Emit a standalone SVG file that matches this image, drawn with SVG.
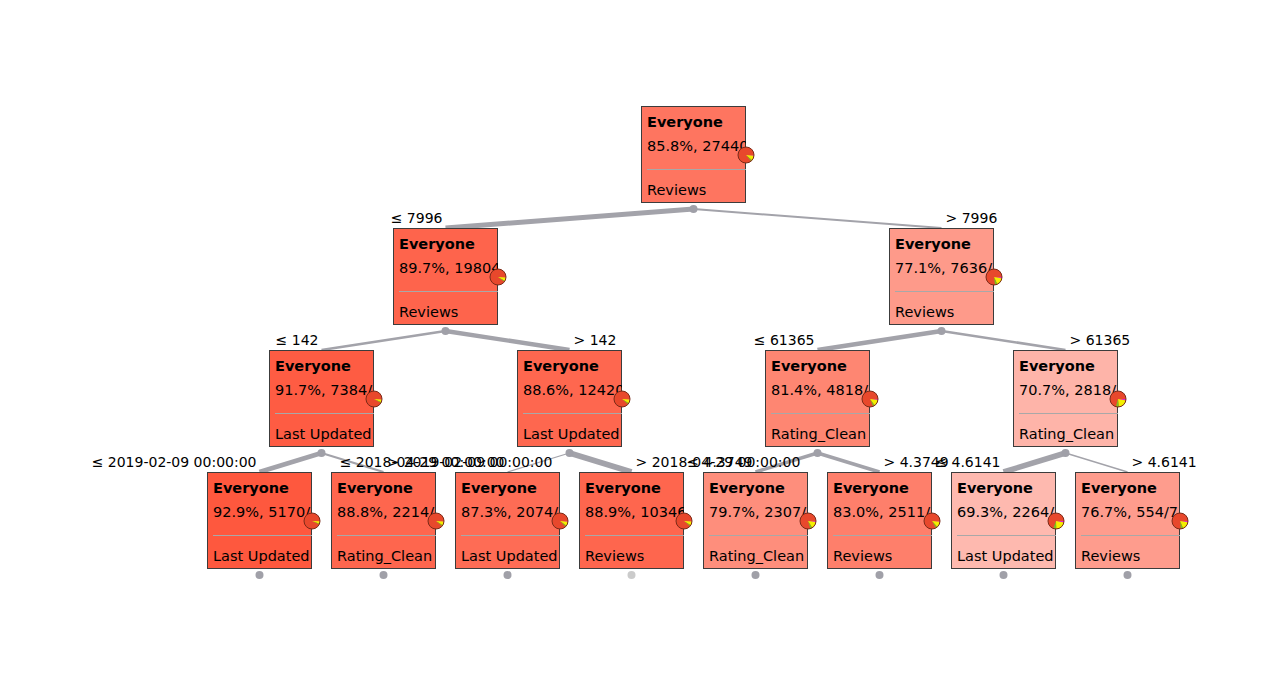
<svg xmlns="http://www.w3.org/2000/svg" width="1283" height="675" viewBox="0 0 1283 675">
<style>
text{font-family:"DejaVu Sans","Verdana",sans-serif;fill:#000}
.t{font-size:14.5px}
.b{font-weight:bold}
.lab{font-size:14px}
.e{stroke:#a3a3aa;fill:none;stroke-linecap:butt}
.box{stroke:#3c3c3c;stroke-width:1}
.sep{stroke:#a8a8a8;stroke-width:1}
.dot{fill:#a0a0a8}
.pr{fill:#e8482c}
.pm{fill:#e020d8}
.py{fill:#f4f000}
.pg{fill:#7cc020}
.po{fill:none;stroke:#7a2a18;stroke-width:1}
</style>
<rect width="1283" height="675" fill="#fff"/>
<g id="connectors">
<line class="e" x1="693.5" y1="209" x2="445.5" y2="228" stroke-width="5"/>
<line class="e" x1="693.5" y1="209" x2="941.5" y2="228" stroke-width="2"/>
<line class="e" x1="445.5" y1="331" x2="321.5" y2="350" stroke-width="2.6"/>
<line class="e" x1="445.5" y1="331" x2="569.5" y2="350" stroke-width="4.4"/>
<line class="e" x1="941.5" y1="331" x2="817.5" y2="350" stroke-width="4.4"/>
<line class="e" x1="941.5" y1="331" x2="1065.5" y2="350" stroke-width="2.6"/>
<line class="e" x1="321.5" y1="453" x2="259.5" y2="472" stroke-width="4.9"/>
<line class="e" x1="321.5" y1="453" x2="383.5" y2="472" stroke-width="2.1"/>
<line class="e" x1="569.5" y1="453" x2="507.5" y2="472" stroke-width="1.2"/>
<line class="e" x1="569.5" y1="453" x2="631.5" y2="472" stroke-width="5.8"/>
<line class="e" x1="817.5" y1="453" x2="755.5" y2="472" stroke-width="3.4"/>
<line class="e" x1="817.5" y1="453" x2="879.5" y2="472" stroke-width="3.6"/>
<line class="e" x1="1065.5" y1="453" x2="1003.5" y2="472" stroke-width="5.6"/>
<line class="e" x1="1065.5" y1="453" x2="1127.5" y2="472" stroke-width="1.4"/>
<text class="lab" x="442.5" y="223" text-anchor="end">≤ 7996</text>
<text class="lab" x="945.5" y="223">&gt; 7996</text>
<text class="lab" x="318.5" y="345" text-anchor="end">≤ 142</text>
<text class="lab" x="573.5" y="345">&gt; 142</text>
<text class="lab" x="814.5" y="345" text-anchor="end">≤ 61365</text>
<text class="lab" x="1069.5" y="345">&gt; 61365</text>
<text class="lab" x="256.5" y="467" text-anchor="end">≤ 2019-02-09 00:00:00</text>
<text class="lab" x="387.5" y="467">&gt; 2019-02-09 00:00:00</text>
<text class="lab" x="504.5" y="467" text-anchor="end">≤ 2018-04-29 00:00:00</text>
<text class="lab" x="635.5" y="467">&gt; 2018-04-29 00:00:00</text>
<text class="lab" x="752.5" y="467" text-anchor="end">≤ 4.3749</text>
<text class="lab" x="883.5" y="467">&gt; 4.3749</text>
<text class="lab" x="1000.5" y="467" text-anchor="end">≤ 4.6141</text>
<text class="lab" x="1131.5" y="467">&gt; 4.6141</text>
</g>

<g id="n0">
<svg x="641" y="106" width="105" height="97"><rect class="box" x="0.5" y="0.5" width="104" height="96" fill="#fe7560"/><line class="sep" x1="6" y1="63.5" x2="105" y2="63.5"/><text class="t b" x="6" y="21">Everyone</text><text class="t" x="6" y="45">85.8%, 27440</text><text class="t" x="6" y="89">Reviews</text></svg>
<g transform="translate(746,155)"><circle class="pr" r="8"/><path class="pm" d="M0,0L8,0A8,8 0 0 1 7.97,0.71Z"/><path class="py" d="M0,0L7.97,0.71A8,8 0 0 1 6.05,5.24Z"/><path class="pg" d="M0,0L6.05,5.24A8,8 0 0 1 5.02,6.23Z"/><circle class="po" r="8"/></g>
<circle class="dot" cx="693.5" cy="209" r="4"/>
</g>

<g id="n1">
<svg x="393" y="228" width="105" height="97"><rect class="box" x="0.5" y="0.5" width="104" height="96" fill="#fe644c"/><line class="sep" x1="6" y1="63.5" x2="105" y2="63.5"/><text class="t b" x="6" y="21">Everyone</text><text class="t" x="6" y="45">89.7%, 19804</text><text class="t" x="6" y="89">Reviews</text></svg>
<g transform="translate(498,277)"><circle class="pr" r="8"/><path class="pm" d="M0,0L8,0A8,8 0 0 1 7.98,0.52Z"/><path class="py" d="M0,0L7.98,0.52A8,8 0 0 1 6.95,3.96Z"/><path class="pg" d="M0,0L6.95,3.96A8,8 0 0 1 6.39,4.83Z"/><circle class="po" r="8"/></g>
<circle class="dot" cx="445.5" cy="331" r="4"/>
</g>

<g id="n2">
<svg x="889" y="228" width="105" height="97"><rect class="box" x="0.5" y="0.5" width="104" height="96" fill="#fe9a8a"/><line class="sep" x1="6" y1="63.5" x2="105" y2="63.5"/><text class="t b" x="6" y="21">Everyone</text><text class="t" x="6" y="45">77.1%, 7636/</text><text class="t" x="6" y="89">Reviews</text></svg>
<g transform="translate(994,277)"><circle class="pr" r="8"/><path class="pm" d="M0,0L8,0A8,8 0 0 1 7.92,1.14Z"/><path class="py" d="M0,0L7.92,1.14A8,8 0 0 1 3.27,7.30Z"/><path class="pg" d="M0,0L3.27,7.30A8,8 0 0 1 1.06,7.93Z"/><circle class="po" r="8"/></g>
<circle class="dot" cx="941.5" cy="331" r="4"/>
</g>

<g id="n3">
<svg x="269" y="350" width="105" height="97"><rect class="box" x="0.5" y="0.5" width="104" height="96" fill="#fe5c43"/><line class="sep" x1="6" y1="63.5" x2="105" y2="63.5"/><text class="t b" x="6" y="21">Everyone</text><text class="t" x="6" y="45">91.7%, 7384/</text><text class="t" x="6" y="89">Last Updated</text></svg>
<g transform="translate(374,399)"><circle class="pr" r="8"/><path class="pm" d="M0,0L8,0A8,8 0 0 1 7.99,0.42Z"/><path class="py" d="M0,0L7.99,0.42A8,8 0 0 1 7.31,3.24Z"/><path class="pg" d="M0,0L7.31,3.24A8,8 0 0 1 6.93,3.99Z"/><circle class="po" r="8"/></g>
<circle class="dot" cx="321.5" cy="453" r="4"/>
</g>

<g id="n4">
<svg x="517" y="350" width="105" height="97"><rect class="box" x="0.5" y="0.5" width="104" height="96" fill="#fe674f"/><line class="sep" x1="6" y1="63.5" x2="105" y2="63.5"/><text class="t b" x="6" y="21">Everyone</text><text class="t" x="6" y="45">88.6%, 12420</text><text class="t" x="6" y="89">Last Updated</text></svg>
<g transform="translate(622,399)"><circle class="pr" r="8"/><path class="pm" d="M0,0L8,0A8,8 0 0 1 7.98,0.57Z"/><path class="py" d="M0,0L7.98,0.57A8,8 0 0 1 6.73,4.33Z"/><path class="pg" d="M0,0L6.73,4.33A8,8 0 0 1 6.04,5.25Z"/><circle class="po" r="8"/></g>
<circle class="dot" cx="569.5" cy="453" r="4"/>
</g>

<g id="n5">
<svg x="765" y="350" width="105" height="97"><rect class="box" x="0.5" y="0.5" width="104" height="96" fill="#fe8672"/><line class="sep" x1="6" y1="63.5" x2="105" y2="63.5"/><text class="t b" x="6" y="21">Everyone</text><text class="t" x="6" y="45">81.4%, 4818/</text><text class="t" x="6" y="89">Rating_Clean</text></svg>
<g transform="translate(870,399)"><circle class="pr" r="8"/><path class="pm" d="M0,0L8,0A8,8 0 0 1 7.95,0.93Z"/><path class="py" d="M0,0L7.95,0.93A8,8 0 0 1 4.75,6.44Z"/><path class="pg" d="M0,0L4.75,6.44A8,8 0 0 1 3.13,7.36Z"/><circle class="po" r="8"/></g>
<circle class="dot" cx="817.5" cy="453" r="4"/>
</g>

<g id="n6">
<svg x="1013" y="350" width="105" height="97"><rect class="box" x="0.5" y="0.5" width="104" height="96" fill="#feb4a9"/><line class="sep" x1="6" y1="63.5" x2="105" y2="63.5"/><text class="t b" x="6" y="21">Everyone</text><text class="t" x="6" y="45">70.7%, 2818/</text><text class="t" x="6" y="89">Rating_Clean</text></svg>
<g transform="translate(1118,399)"><circle class="pr" r="8"/><path class="pm" d="M0,0L8,0A8,8 0 0 1 7.86,1.47Z"/><path class="py" d="M0,0L7.86,1.47A8,8 0 0 1 0.78,7.96Z"/><path class="pg" d="M0,0L0.78,7.96A8,8 0 0 1 -2.14,7.71Z"/><circle class="po" r="8"/></g>
<circle class="dot" cx="1065.5" cy="453" r="4"/>
</g>

<g id="n7">
<svg x="207" y="472" width="105" height="97"><rect class="box" x="0.5" y="0.5" width="104" height="96" fill="#fe583e"/><line class="sep" x1="6" y1="63.5" x2="105" y2="63.5"/><text class="t b" x="6" y="21">Everyone</text><text class="t" x="6" y="45">92.9%, 5170/</text><text class="t" x="6" y="89">Last Updated</text></svg>
<g transform="translate(312,521)"><circle class="pr" r="8"/><path class="pm" d="M0,0L8,0A8,8 0 0 1 7.99,0.36Z"/><path class="py" d="M0,0L7.99,0.36A8,8 0 0 1 7.49,2.80Z"/><path class="pg" d="M0,0L7.49,2.80A8,8 0 0 1 7.22,3.46Z"/><circle class="po" r="8"/></g>
<circle class="dot" cx="259.5" cy="575" r="4"/>
</g>

<g id="n8">
<svg x="331" y="472" width="105" height="97"><rect class="box" x="0.5" y="0.5" width="104" height="96" fill="#fe664e"/><line class="sep" x1="6" y1="63.5" x2="105" y2="63.5"/><text class="t b" x="6" y="21">Everyone</text><text class="t" x="6" y="45">88.8%, 2214/</text><text class="t" x="6" y="89">Rating_Clean</text></svg>
<g transform="translate(436,521)"><circle class="pr" r="8"/><path class="pm" d="M0,0L8,0A8,8 0 0 1 7.98,0.56Z"/><path class="py" d="M0,0L7.98,0.56A8,8 0 0 1 6.77,4.26Z"/><path class="pg" d="M0,0L6.77,4.26A8,8 0 0 1 6.10,5.17Z"/><circle class="po" r="8"/></g>
<circle class="dot" cx="383.5" cy="575" r="4"/>
</g>

<g id="n9">
<svg x="455" y="472" width="105" height="97"><rect class="box" x="0.5" y="0.5" width="104" height="96" fill="#fe6c55"/><line class="sep" x1="6" y1="63.5" x2="105" y2="63.5"/><text class="t b" x="6" y="21">Everyone</text><text class="t" x="6" y="45">87.3%, 2074/</text><text class="t" x="6" y="89">Last Updated</text></svg>
<g transform="translate(560,521)"><circle class="pr" r="8"/><path class="pm" d="M0,0L8,0A8,8 0 0 1 7.97,0.64Z"/><path class="py" d="M0,0L7.97,0.64A8,8 0 0 1 6.42,4.77Z"/><path class="pg" d="M0,0L6.42,4.77A8,8 0 0 1 5.59,5.73Z"/><circle class="po" r="8"/></g>
<circle class="dot" cx="507.5" cy="575" r="4"/>
</g>

<g id="n10">
<svg x="579" y="472" width="105" height="97"><rect class="box" x="0.5" y="0.5" width="104" height="96" fill="#fe664e"/><line class="sep" x1="6" y1="63.5" x2="105" y2="63.5"/><text class="t b" x="6" y="21">Everyone</text><text class="t" x="6" y="45">88.9%, 10346</text><text class="t" x="6" y="89">Reviews</text></svg>
<g transform="translate(684,521)"><circle class="pr" r="8"/><path class="pm" d="M0,0L8,0A8,8 0 0 1 7.98,0.56Z"/><path class="py" d="M0,0L7.98,0.56A8,8 0 0 1 6.78,4.24Z"/><path class="pg" d="M0,0L6.78,4.24A8,8 0 0 1 6.13,5.14Z"/><circle class="po" r="8"/></g>
<circle cx="631.5" cy="575" r="4" fill="#cbcbcb"/>
</g>

<g id="n11">
<svg x="703" y="472" width="105" height="97"><rect class="box" x="0.5" y="0.5" width="104" height="96" fill="#fe8e7c"/><line class="sep" x1="6" y1="63.5" x2="105" y2="63.5"/><text class="t b" x="6" y="21">Everyone</text><text class="t" x="6" y="45">79.7%, 2307/</text><text class="t" x="6" y="89">Rating_Clean</text></svg>
<g transform="translate(808,521)"><circle class="pr" r="8"/><path class="pm" d="M0,0L8,0A8,8 0 0 1 7.94,1.02Z"/><path class="py" d="M0,0L7.94,1.02A8,8 0 0 1 4.18,6.82Z"/><path class="pg" d="M0,0L4.18,6.82A8,8 0 0 1 2.33,7.65Z"/><circle class="po" r="8"/></g>
<circle class="dot" cx="755.5" cy="575" r="4"/>
</g>

<g id="n12">
<svg x="827" y="472" width="105" height="97"><rect class="box" x="0.5" y="0.5" width="104" height="96" fill="#fe7f6b"/><line class="sep" x1="6" y1="63.5" x2="105" y2="63.5"/><text class="t b" x="6" y="21">Everyone</text><text class="t" x="6" y="45">83.0%, 2511/</text><text class="t" x="6" y="89">Reviews</text></svg>
<g transform="translate(932,521)"><circle class="pr" r="8"/><path class="pm" d="M0,0L8,0A8,8 0 0 1 7.95,0.85Z"/><path class="py" d="M0,0L7.95,0.85A8,8 0 0 1 5.25,6.04Z"/><path class="pg" d="M0,0L5.25,6.04A8,8 0 0 1 3.85,7.01Z"/><circle class="po" r="8"/></g>
<circle class="dot" cx="879.5" cy="575" r="4"/>
</g>

<g id="n13">
<svg x="951" y="472" width="105" height="97"><rect class="box" x="0.5" y="0.5" width="104" height="96" fill="#feb9af"/><line class="sep" x1="6" y1="63.5" x2="105" y2="63.5"/><text class="t b" x="6" y="21">Everyone</text><text class="t" x="6" y="45">69.3%, 2264/</text><text class="t" x="6" y="89">Last Updated</text></svg>
<g transform="translate(1056,521)"><circle class="pr" r="8"/><path class="pm" d="M0,0L8,0A8,8 0 0 1 7.85,1.54Z"/><path class="py" d="M0,0L7.85,1.54A8,8 0 0 1 0.22,8.00Z"/><path class="pg" d="M0,0L0.22,8.00A8,8 0 0 1 -2.80,7.49Z"/><circle class="po" r="8"/></g>
<circle class="dot" cx="1003.5" cy="575" r="4"/>
</g>

<g id="n14">
<svg x="1075" y="472" width="105" height="97"><rect class="box" x="0.5" y="0.5" width="104" height="96" fill="#fe9c8d"/><line class="sep" x1="6" y1="63.5" x2="105" y2="63.5"/><text class="t b" x="6" y="21">Everyone</text><text class="t" x="6" y="45">76.7%, 554/7</text><text class="t" x="6" y="89">Reviews</text></svg>
<g transform="translate(1180,521)"><circle class="pr" r="8"/><path class="pm" d="M0,0L8,0A8,8 0 0 1 7.91,1.17Z"/><path class="py" d="M0,0L7.91,1.17A8,8 0 0 1 3.11,7.37Z"/><path class="pg" d="M0,0L3.11,7.37A8,8 0 0 1 0.85,7.95Z"/><circle class="po" r="8"/></g>
<circle class="dot" cx="1127.5" cy="575" r="4"/>
</g>
</svg>
